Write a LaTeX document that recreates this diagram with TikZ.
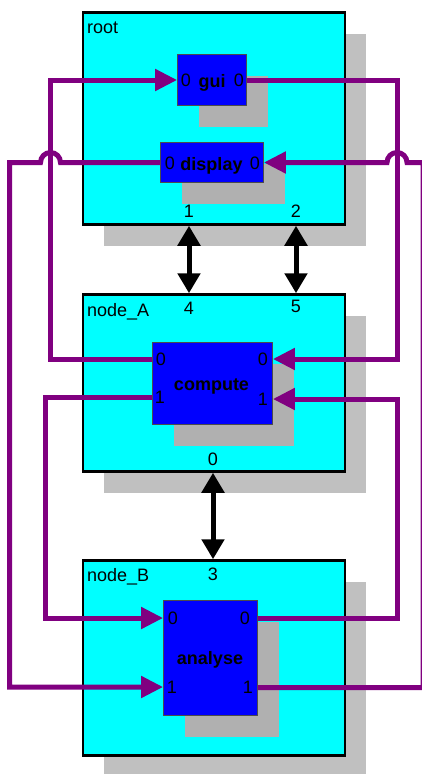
\documentclass[tikz,border=0pt]{standalone}
\usepackage{fontspec}
\setmainfont{Liberation Sans}
\usetikzlibrary{arrows.meta,shadows,calc}
\definecolor{hostcyan}{RGB}{0,255,255}
\definecolor{taskblue}{RGB}{0,0,255}
\definecolor{flowpurple}{RGB}{128,0,128}
\definecolor{hostshadow}{RGB}{192,192,192}
\definecolor{taskshadow}{RGB}{176,176,176}

\begin{document}
\begin{tikzpicture}[x=1pt, y=-1pt,
    font=\fontsize{18}{21}\selectfont,
    hostbox/.style={draw=black, line width=2.5pt, fill=hostcyan, minimum width=262pt,
      drop shadow={shadow xshift=21pt, shadow yshift=-21pt, fill=hostshadow, opacity=1, draw=none}},
    taskbox/.style={draw=black!70, line width=0.8pt, fill=taskblue,
      drop shadow={shadow xshift=21pt, shadow yshift=-21pt, fill=taskshadow, opacity=1, draw=none}},
    tag/.style={inner sep=0pt},
    title/.style={tag, anchor=base, font=\fontsize{18}{21}\selectfont\bfseries},
    flow/.style={draw=flowpurple, line width=5pt},
    flowin/.style={flow, -{Triangle[length=22pt, width=21pt]}},
    link/.style={line width=5pt, {Triangle[length=20pt, width=22pt]}-{Triangle[length=20pt, width=22pt]}}]
\useasboundingbox (0,0) rectangle (422,774);

% Hosts
\node[hostbox, minimum height=212pt] (root) at (214,118.5) {};
\node[hostbox, minimum height=177pt] (nodeA) at (214,383) {};
\node[hostbox, minimum height=195pt] (nodeB) at (214,658) {};
\node[tag, anchor=base west] (rootname) at (87,33.3) {root};
\node[tag, anchor=base west] (nodeAname) at (87,316.7) {node\_A};
\node[tag, anchor=base west] (nodeBname) at (87,581.7) {node\_B};

% Host ports
\node[tag] (root-p1) at (189,211.5) {1};
\node[tag] (root-p2) at (296,211.5) {2};
\node[tag] (a-p4) at (189,308) {4};
\node[tag] (a-p5) at (296,306) {5};
\node[tag] (a-p0) at (213,459) {0};
\node[tag] (b-p3) at (213,574.5) {3};

% Tasks
\node[taskbox, minimum width=69pt, minimum height=51pt] (gui) at (212,80) {};
\node[taskbox, minimum width=103pt, minimum height=40pt] (display) at (212,162.5) {};
\node[taskbox, minimum width=120pt, minimum height=82pt] (compute) at (212.5,383.5) {};
\node[taskbox, minimum width=94pt, minimum height=115pt] (analyse) at (210.5,658) {};
\node[title] at (212,87) {gui};
\node[title] at (211.5,170) {display};
\node[title] at (211.5,390) {compute};
\node[title] at (210,664) {analyse};

% Task ports
\node[tag] (gui-i0) at (186,80) {0};
\node[tag] (gui-o0) at (239,80) {0};
\node[tag] (dsp-o0) at (170,163) {0};
\node[tag] (dsp-i0) at (255,163) {0};
\node[tag] (cmp-o0) at (161,359) {0};
\node[tag] (cmp-o1) at (160,397) {1};
\node[tag] (cmp-i0) at (263,359) {0};
\node[tag] (cmp-i1) at (263,399) {1};
\node[tag] (ana-i0) at (173,618) {0};
\node[tag] (ana-i1) at (172,687) {1};
\node[tag] (ana-o0) at (245,618) {0};
\node[tag] (ana-o1) at (248,687.5) {1};

% Rails
\coordinate (westA) at (50.5,0);
\coordinate (westB) at (45,0);
\coordinate (westC) at (9.5,0);
\coordinate (eastA) at (397,0);
\coordinate (eastC) at (423,0);

% Host links
\draw[link] (root-p1 |- root.south) -- (a-p4 |- nodeA.north);
\draw[link] (root-p2 |- root.south) -- (a-p5 |- nodeA.north);
\draw[link] (a-p0 |- nodeA.south) -- (b-p3 |- nodeB.north);

% Data flows
\draw[flowin] (compute.west |- cmp-o0) -- (cmp-o0 -| westA) |- (gui.west);
\draw[flowin] (gui.east) -- (gui.east -| eastA) |- (compute.east |- cmp-i0);
\draw[flowin] (compute.west |- cmp-o1) -- (cmp-o1 -| westB) |- (analyse.west |- ana-i0);
\draw[flowin] (analyse.east |- ana-o0) -- (ana-o0 -| eastA) |- (compute.east |- cmp-i1);
\draw[flowin] (display.west) -- ($(westA |- display.west)+(10,0)$)
  arc[start angle=0, end angle=-180, radius=10] -- (display.west -| westC)
  |- (analyse.west |- ana-i1);
\draw[flowin] (analyse.east |- ana-o1) -- (ana-o1 -| eastC) -- (eastC |- display.east)
  -- ($(eastA |- display.east)+(10,0)$) arc[start angle=0, end angle=-180, radius=10]
  -- (display.east);
\end{tikzpicture}
\end{document}
